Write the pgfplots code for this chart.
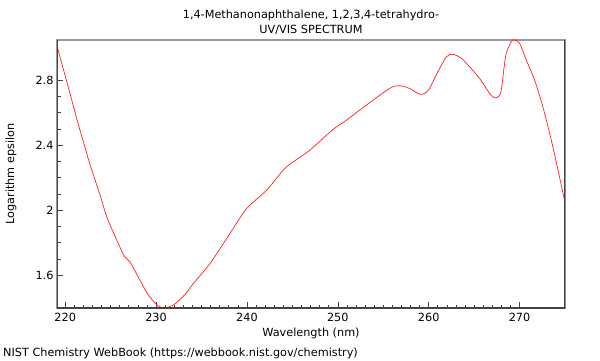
\documentclass[border=0pt]{standalone}
\usepackage{pgfplots}
\pgfplotsset{compat=1.18}
\usepackage{fontspec}
\setmainfont{DejaVu Sans}
\definecolor{framedark}{HTML}{444444}
\definecolor{framelight}{HTML}{999999}
\definecolor{curve}{HTML}{FF2020}
\begin{document}
\begin{tikzpicture}[x=1bp,y=1bp]
\useasboundingbox (0,0) rectangle (600,360);
\begin{axis}[
  at={(57bp,52bp)}, anchor=south west,
  scale only axis, width=508bp, height=268bp,
  xmin=219.1, xmax=275, ymin=1.399, ymax=3.046,
  xtick={220,230,240,250,260,270},
  ytick={1.6,2,2.4,2.8},
  yticklabels={1.6,2,2.4,2.8},
  minor x tick num=9, minor y tick num=3,
  xtick pos=bottom, ytick pos=left,
  tick align=inside,
  major tick length=6bp, minor tick length=3.5bp,
  tick style={color=framedark, line width=0.6bp},
  axis line style={draw=framelight, line width=1.2bp},
  /pgf/number format/assume math mode=true,
  ticklabel style={font=\fontsize{11.3}{13}\selectfont, color=black},
  xticklabel style={yshift=-2bp},
  clip=true,
]
\addplot[curve, line width=0.7bp, smooth, tension=0.5] coordinates {
(219.1,3.01) (220.36,2.751) (221.46,2.525) (221.95,2.431) (222.75,2.277)
(223.85,2.092) (224.58,1.959) (225.68,1.815) (226.52,1.717) (227.14,1.682)
(228.24,1.569)
(229.15,1.479) (230.25,1.411) (230.99,1.401) (231.90,1.417) (233.19,1.483)
(234.1,1.549) (235.93,1.672) (238.13,1.857) (239.97,2.010) (242.16,2.123)
(243.99,2.246) (245.09,2.297) (246.92,2.369) (249.48,2.497) (250.96,2.554)
(253.15,2.646) (255.71,2.749) (256.81,2.765) (257.9,2.748) (259.01,2.712)
(259.6,2.72) (260.11,2.751) (261.0,2.85) (261.95,2.943) (262.67,2.958)
(263.59,2.934) (264.32,2.892) (265.60,2.810) (266.70,2.718) (267.25,2.691)
(267.7,2.70) (267.99,2.738) (268.3,2.88) (268.54,2.964) (269.09,3.036)
(269.45,3.046) (270.0,3.026) (270.74,2.923) (271.65,2.80) (272.56,2.636)
(273.66,2.39) (274.95,2.06)
};
\draw[framedark, line width=1.2bp] (rel axis cs:0,1) -- (rel axis cs:0,0) -- (rel axis cs:1,0) -- (rel axis cs:1,1);
\end{axis}
\node[anchor=base, font=\fontsize{11.3}{13}\selectfont] at (311,341.5) {1,4-Methanonaphthalene, 1,2,3,4-tetrahydro-};
\node[anchor=base, font=\fontsize{11.3}{13}\selectfont] at (311,326.5) {UV/VIS SPECTRUM};
\node[anchor=base, font=\fontsize{11.3}{13}\selectfont] at (311,24) {Wavelength (nm)};
\node[anchor=center, rotate=90, font=\fontsize{11.3}{13}\selectfont] at (11,186) {Logarithm epsilon};
\node[anchor=base west, inner sep=0pt, font=\fontsize{11.3}{13}\selectfont] at (3,3.5) {NIST Chemistry WebBook (https://webbook.nist.gov/chemistry)};
\end{tikzpicture}
\end{document}
